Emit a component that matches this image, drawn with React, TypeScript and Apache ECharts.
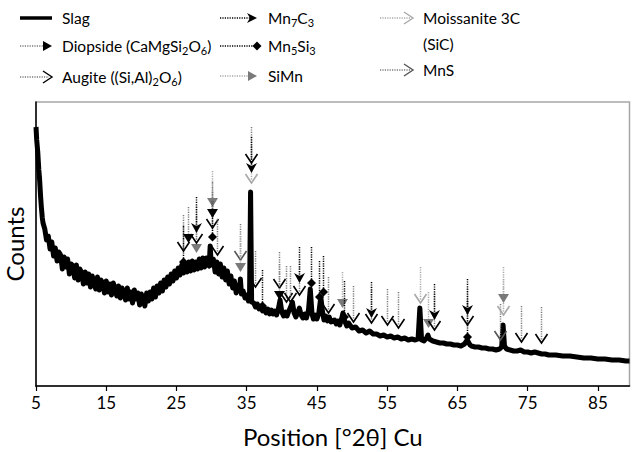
import React, { useEffect, useRef } from "react";
import * as echarts from "echarts";

// Diffraction pattern (2θ in degrees, counts in arbitrary units)
const twoTheta = [
  5.0, 5.1, 5.25, 5.4, 5.5, 5.65, 5.75, 5.9, 6.0, 6.25, 6.5, 6.75, 7.0, 7.25, 7.5, 7.75, 8.0, 8.25, 8.5, 8.75,
  9.0, 9.25, 9.5, 9.75, 10.0, 10.25, 10.5, 10.75, 11.0, 11.25, 11.5, 11.75, 12.0, 12.25, 12.5, 12.75,
  13.0, 13.25, 13.5, 13.75, 14.0, 14.25, 14.5, 14.75, 15.0, 15.25, 15.5, 15.75, 16.0, 16.25, 16.5, 16.75,
  17.0, 17.25, 17.5, 17.75, 18.0, 18.25, 18.5, 18.75, 19.0, 19.25, 19.5, 19.75, 20.0, 20.25, 20.5, 20.75,
  21.0, 21.25, 21.5, 21.75, 22.0, 22.25, 22.5, 22.75, 23.0, 23.25, 23.5, 23.75, 24.0, 24.25, 24.5, 24.75,
  25.0, 25.25, 25.5, 25.75, 26.0, 26.25, 26.5, 26.75, 27.0, 27.25, 27.5, 27.75, 28.0, 28.25, 28.5, 28.75,
  29.0, 29.25, 29.5, 29.65, 29.8, 29.95, 30.25, 30.5, 30.75, 31.0, 31.25, 31.5, 31.75, 32.0, 32.25, 32.5,
  32.75, 33.0, 33.25, 33.5, 33.75, 33.95, 34.1, 34.25, 34.5, 34.75, 35.0, 35.25, 35.4, 35.55, 35.7, 36.0,
  36.25, 36.5, 36.75, 37.0, 37.25, 37.5, 37.75, 38.0, 38.25, 38.5, 38.75, 39.0, 39.25, 39.5, 39.75, 40.0,
  40.25, 40.5, 40.75, 41.0, 41.25, 41.5, 41.75, 42.0, 42.25, 42.5, 42.75, 43.0, 43.25, 43.5, 43.8, 44.05,
  44.3, 44.5, 44.75, 45.0, 45.25, 45.55, 45.8, 46.0, 46.25, 46.5, 46.75, 47.0, 47.5, 47.75, 48.0, 48.25,
  48.5, 48.7, 48.9, 49.25, 49.5, 50.0, 50.5, 51.0, 51.5, 52.0, 52.5, 53.0, 53.5, 54.0, 54.5, 55.0,
  55.5, 56.0, 56.5, 57.0, 57.5, 58.0, 58.5, 59.0, 59.4, 59.65, 59.9, 60.25, 60.6, 60.8, 61.0, 61.5,
  62.0, 62.5, 63.0, 63.5, 64.0, 64.5, 65.0, 65.5, 66.0, 66.4, 66.8, 67.0, 67.5, 68.0, 68.5, 69.0,
  69.5, 70.0, 70.5, 71.0, 71.3, 71.5, 71.7, 72.0, 72.5, 73.0, 73.5, 74.0, 74.5, 75.0, 75.5, 76.0,
  76.5, 77.0, 77.5, 78.0, 79.0, 80.0, 81.0, 82.0, 83.0, 84.0, 85.0, 86.0, 87.0, 88.0, 89.0, 89.5,
];
const counts = [
  259, 246, 234, 216, 208, 190, 180, 168, 163, 157, 146, 150, 137, 144, 130, 138, 125, 134, 131, 117,
  129, 119, 127, 112, 122, 120, 108, 121, 106, 117, 113, 102, 114, 103, 112, 99,
  110, 104, 97, 109, 96, 106, 103, 93, 105, 94, 102, 91, 103, 97, 90, 100,
  88, 98, 94, 86, 98, 87, 94, 83, 96, 87, 93, 81, 92, 86, 80, 93,
  85, 94, 87, 98, 89, 100, 93, 103, 95, 106, 99, 109, 102, 112, 105, 115,
  108, 118, 111, 121, 113, 123, 114, 124, 115, 125, 116, 124, 117, 127, 118, 128,
  119, 128, 121, 120, 140, 121, 127, 114, 124, 112, 122, 109, 118, 106, 115, 102,
  110, 98, 105, 93, 101, 95, 107, 92, 95, 88, 91, 85, 87, 194, 84, 83,
  79, 82, 77, 80, 75, 78, 73, 77, 72, 76, 72, 75, 71, 77, 86, 74,
  70, 74, 70, 75, 79, 84, 73, 69, 73, 78, 71, 68, 72, 68, 76, 97,
  72, 67, 71, 67, 72, 89, 74, 66, 70, 65, 69, 64, 66, 62, 65, 61,
  67, 73, 66, 60, 63, 58, 59, 55, 56, 53, 55, 52, 52, 50, 51, 49,
  50, 48, 49, 47, 48, 46, 47, 46, 47, 78, 46, 45, 48, 51, 47, 45,
  44, 43, 43, 42, 42, 41, 41, 40, 42, 46, 41, 40, 39, 39, 38, 38,
  37, 37, 36, 37, 39, 61, 40, 37, 36, 35, 35, 36, 34, 34, 33, 34,
  33, 32, 32, 31, 31, 30, 30, 29, 28, 28, 27, 27, 26, 26, 25, 25,
];

// Phase reflections: [2θ, height of the arrow tip]
const diopside = [[26.6, 143], [30.1, 168], [39.6, 86]];
const augite = [
  [26.0, 135], [27.8, 143], [30.1, 158], [30.8, 131], [35.55, 223], [36.2, 99], [39.6, 98], [40.6, 84],
  [41.2, 84], [42.5, 91], [46.6, 73], [50.2, 64], [52.7, 63], [55.0, 61], [56.6, 58], [61.7, 56],
  [66.4, 61], [74.1, 44], [76.9, 43],
];
const mn7c3 = [[27.8, 153], [35.55, 213], [42.5, 103], [52.7, 68], [61.7, 66], [66.4, 71]];
const mn5si3 = [[26.0, 124], [30.1, 149], [37.2, 80], [44.2, 103], [45.3, 89], [45.9, 94], [48.9, 69], [66.4, 49]];
const siMn = [[27.8, 133], [30.1, 179], [34.1, 114], [48.6, 78], [60.8, 58], [71.5, 83]];
const moissanite = [[35.55, 203], [59.7, 83], [71.5, 71]];
const mnS = [[34.1, 126], [71.1, 46]];

const xTicks = [5, 15, 25, 35, 45, 55, 65, 75, 85];

const BLACK = "#000";
const DARK = "#555";
const GRAY = "#7a7a7a";
const LIGHT = "#a8a8a8";
const FONT = "Lato, 'Open Sans', sans-serif";
const ARROW_LEN = 36;

type Head = "tri" | "stealth" | "chev" | "diamond";

function headShapeDown(head: Head, x: number, y: number, color: string): any {
  if (head === "tri")
    return { type: "polygon", shape: { points: [[x - 5.5, y - 9], [x + 5.5, y - 9], [x, y]] }, style: { fill: color } };
  if (head === "stealth")
    return { type: "polygon", shape: { points: [[x - 5.5, y - 10], [x, y - 7], [x + 5.5, y - 10], [x, y]] }, style: { fill: color } };
  if (head === "chev")
    return { type: "polyline", shape: { points: [[x - 6, y - 9], [x, y], [x + 6, y - 9]] }, style: { stroke: color, lineWidth: 1.6, fill: null } };
  return { type: "polygon", shape: { points: [[x, y - 4.5], [x + 4.5, y], [x, y + 4.5], [x - 4.5, y]] }, style: { fill: color } };
}

function headShapeRight(head: Head, x: number, y: number, color: string): any {
  if (head === "tri")
    return { type: "polygon", shape: { points: [[x - 9, y - 5], [x - 9, y + 5], [x, y]] }, style: { fill: color } };
  if (head === "stealth")
    return { type: "polygon", shape: { points: [[x - 10, y - 5], [x - 7, y], [x - 10, y + 5], [x, y]] }, style: { fill: color } };
  if (head === "chev")
    return { type: "polyline", shape: { points: [[x - 9, y - 6], [x, y], [x - 9, y + 6]] }, style: { stroke: color, lineWidth: 1.4, fill: null } };
  return { type: "polygon", shape: { points: [[x - 4.5, y], [x, y - 4.5], [x + 4.5, y], [x, y + 4.5]] }, style: { fill: color } };
}

function markerSeries(name: string, data: number[][], head: Head, lineColor: string, headColor: string) {
  return {
    type: "custom",
    name,
    data,
    encode: { x: 0, y: 1 },
    z: 5,
    silent: true,
    renderItem: (_params: any, api: any) => {
      const p = api.coord([api.value(0), api.value(1)]);
      const x = Math.round(p[0]) + 0.5;
      const y = p[1];
      return {
        type: "group",
        children: [
          {
            type: "line",
            shape: { x1: x, y1: y - ARROW_LEN, x2: x, y2: y - 3 },
            style: { stroke: lineColor, lineWidth: 1.5, lineDash: [1.2, 1.2] },
          },
          headShapeDown(head, x, y, headColor),
        ],
      };
    },
  };
}

function legendItem(x0: number, x1: number, y: number, head: Head, lineColor: string, headColor: string): any[] {
  return [
    { type: "line", shape: { x1: x0, y1: y, x2: x1 - 3, y2: y }, style: { stroke: lineColor, lineWidth: 1.4, lineDash: [1.2, 1.2] } },
    headShapeRight(head, x1, y, headColor),
  ];
}

const richSub = {
  s: { fontSize: 11, fontFamily: FONT, lineHeight: 13, verticalAlign: "bottom", fill: "#000" },
};

function legendText(x: number, y: number, text: string): any {
  return {
    type: "text",
    x,
    y,
    style: { text, rich: richSub, fontSize: 15.5, lineHeight: 20, fontFamily: FONT, fill: "#000", verticalAlign: "middle", align: "left" },
  };
}

export default function App() {
  const ref = useRef<HTMLDivElement>(null);
  useEffect(() => {
    if (!ref.current) return;
    const chart = echarts.init(ref.current, null, { renderer: "svg" });
    const slag = twoTheta.map((t, i) => [t, counts[i]]);
    const option: any = {
      animation: false,
      backgroundColor: "#fff",
      grid: {
        left: 36, right: 2.5, top: 102, bottom: 66, show: true, borderColor: "#a6a6a6", borderWidth: 1.5,
        outerBoundsMode: "none", containLabel: false,
      },
      xAxis: {
        type: "value",
        min: 5,
        max: 89.5,
        interval: 10,
        axisLine: { show: true, onZero: false, lineStyle: { color: BLACK, width: 1.5 } },
        axisTick: { show: true, length: 5, lineStyle: { color: BLACK, width: 1.2 }, customValues: xTicks },
        axisLabel: { color: "#000", fontSize: 17, fontFamily: FONT, margin: 8, customValues: xTicks },
        splitLine: { show: false },
        name: "Position [°2θ] Cu",
        nameLocation: "middle",
        nameGap: 38,
        nameTextStyle: { fontSize: 24, fontFamily: FONT, color: "#000" },
      },
      yAxis: {
        type: "value",
        min: 0,
        max: 284,
        axisLine: { show: true, lineStyle: { color: BLACK, width: 1.5 } },
        axisTick: { show: false },
        axisLabel: { show: false },
        splitLine: { show: false },
        name: "Counts",
        nameLocation: "middle",
        nameGap: 10,
        nameRotate: 90,
        nameTextStyle: { fontSize: 24, fontFamily: FONT, color: "#000" },
      },
      series: [
        {
          type: "line",
          name: "Slag",
          data: slag,
          symbol: "none",
          z: 2,
          lineStyle: { color: BLACK, width: 5, join: "round" },
        },
        markerSeries("MnS", mnS, "chev", GRAY, DARK),
        markerSeries("Moissanite 3C (SiC)", moissanite, "chev", LIGHT, LIGHT),
        markerSeries("SiMn", siMn, "tri", LIGHT, GRAY),
        markerSeries("Augite", augite, "chev", GRAY, BLACK),
        markerSeries("Mn5Si3", mn5si3, "diamond", BLACK, BLACK),
        markerSeries("Diopside", diopside, "tri", GRAY, BLACK),
        markerSeries("Mn7C3", mn7c3, "stealth", BLACK, BLACK),
      ],
      graphic: [
        { type: "line", shape: { x1: 20, y1: 18, x2: 52, y2: 18 }, style: { stroke: BLACK, lineWidth: 3.5 } },
        legendText(62, 18, "Slag"),
        ...legendItem(20, 52, 46, "tri", GRAY, BLACK),
        legendText(62, 46, "Diopside (CaMgSi{s|2}O{s|6})"),
        ...legendItem(20, 52, 77, "chev", GRAY, BLACK),
        legendText(62, 77, "Augite ((Si,Al){s|2}O{s|6})"),
        ...legendItem(220, 257, 18, "stealth", BLACK, BLACK),
        legendText(268, 18, "Mn{s|7}C{s|3}"),
        ...legendItem(220, 257, 46, "diamond", BLACK, BLACK),
        legendText(268, 46, "Mn{s|5}Si{s|3}"),
        ...legendItem(220, 257, 76, "tri", LIGHT, GRAY),
        legendText(268, 76, "SiMn"),
        ...legendItem(380, 413, 18, "chev", LIGHT, LIGHT),
        legendText(423, 18, "Moissanite 3C"),
        legendText(423, 44, "(SiC)"),
        ...legendItem(380, 413, 70, "chev", GRAY, DARK),
        legendText(423, 70, "MnS"),
      ],
    };
    chart.setOption(option);
    return () => chart.dispose();
  }, []);
  return <div ref={ref} style={{ position: "absolute", left: 0, top: 0, width: 632, height: 452 }} />;
}
